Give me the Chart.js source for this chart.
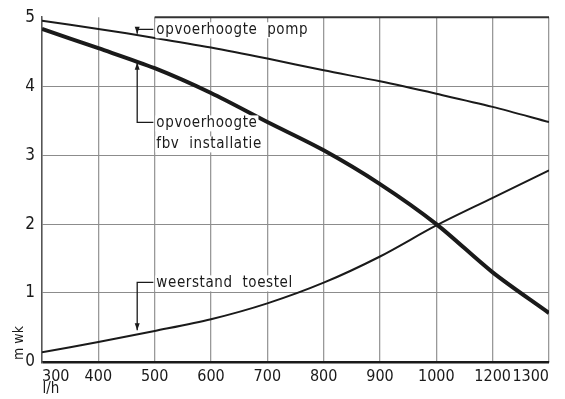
<!DOCTYPE html>
<html>
<head>
<meta charset="utf-8">
<script src="https://cdn.jsdelivr.net/npm/chart.js@4"></script>
<style>
  html, body { margin: 0; padding: 0; background: #fff; }
  #wrap { width: 565px; height: 399px; }
</style>
</head>
<body>
<div id="wrap"><canvas id="chart" width="565" height="399"></canvas></div>
<script>
// x axis is not linear in l/h (1100 is skipped), so points sit on tick index
const xLabels = ['300', '400', '500', '600', '700', '800', '900', '1000', '1200', '1300'];
const yTicks = [0, 1, 2, 3, 4, 5];

// m wk, read at each x tick
const pumpHead = [4.95, 4.83, 4.70, 4.56, 4.40, 4.23, 4.07, 3.89, 3.70, 3.48];
const installHead = [4.83, 4.55, 4.26, 3.90, 3.48, 3.07, 2.58, 2.00, 1.30, 0.71];
const resistance = [0.14, 0.29, 0.45, 0.62, 0.85, 1.15, 1.53, 1.98, 2.38, 2.78];

// label text with leader: text anchor (index, value), leader x (index), arrow tip value
const notes = [
  { lines: ['opvoerhoogte  pomp'], at: [2.03, 4.81], leaderX: 1.69, tip: 4.76 },
  { lines: ['opvoerhoogte', 'fbv  installatie'], at: [2.03, 3.46], leaderX: 1.69, tip: 4.34 },
  { lines: ['weerstand  toestel'], at: [2.03, 1.14], leaderX: 1.69, tip: 0.46 }
];

const FONT = '"Liberation Sans Narrow", "DejaVu Sans Condensed", "DejaVu Sans", sans-serif';
const INK = '#1a1a1a';

const toPoints = arr => arr.map((v, i) => ({ x: i, y: v }));

const lineStyle = (w) => ({
  borderColor: INK,
  borderWidth: w,
  pointRadius: 0,
  fill: false,
  tension: 0.3
});

const notesPlugin = {
  id: 'notes',
  afterDraw(chart) {
    const { ctx, scales: { x, y }, chartArea } = chart;
    ctx.save();

    // top border only runs from 500 to the right
    ctx.strokeStyle = '#333';
    ctx.lineWidth = 2;
    ctx.beginPath();
    ctx.moveTo(x.getPixelForValue(2), y.getPixelForValue(5));
    ctx.lineTo(chartArea.right, y.getPixelForValue(5));
    ctx.stroke();

    ctx.font = '15px ' + FONT;
    ctx.letterSpacing = '0.6px';
    ctx.textBaseline = 'middle';
    ctx.fillStyle = INK;
    ctx.strokeStyle = INK;
    ctx.lineWidth = 1.3;

    notes.forEach(n => {
      const tx = x.getPixelForValue(n.at[0]);
      const ty = y.getPixelForValue(n.at[1]);
      const lx = x.getPixelForValue(n.leaderX);
      const tipY = y.getPixelForValue(n.tip);
      const lineH = 21;

      n.lines.forEach((t, i) => {
        const w = ctx.measureText(t).width;
        ctx.fillStyle = '#fff';
        ctx.fillRect(tx - 1, ty + i * lineH - 8, w + 2, 16);
        ctx.fillStyle = INK;
        ctx.fillText(t, tx, ty + i * lineH);
      });

      const hy = ty - 1;
      ctx.beginPath();
      ctx.moveTo(tx - 3, hy);
      ctx.lineTo(lx, hy);
      ctx.lineTo(lx, tipY);
      ctx.stroke();

      // small arrow head
      const dir = tipY > hy ? 1 : -1;
      ctx.beginPath();
      ctx.moveTo(lx, tipY);
      ctx.lineTo(lx - 2.5, tipY - dir * 7);
      ctx.lineTo(lx + 2.5, tipY - dir * 7);
      ctx.closePath();
      ctx.fill();
    });

    // axis captions
    ctx.letterSpacing = '0px';
    ctx.font = '15px ' + FONT;
    ctx.textAlign = 'center';
    ctx.fillText('l/h', 51, 389);
    ctx.font = '14px ' + FONT;
    ctx.translate(19, 343);
    ctx.rotate(-Math.PI / 2);
    ctx.fillText('m wk', 0, 0);
    ctx.restore();
  }
};

new Chart(document.getElementById('chart'), {
  type: 'line',
  data: {
    datasets: [
      { label: 'opvoerhoogte pomp', data: toPoints(pumpHead), ...lineStyle(2) },
      { label: 'opvoerhoogte fbv installatie', data: toPoints(installHead), ...lineStyle(4) },
      { label: 'weerstand toestel', data: toPoints(resistance), ...lineStyle(2) }
    ]
  },
  options: {
    responsive: false,
    animation: false,
    layout: { padding: { top: 17, right: 16, left: 0, bottom: 0 } },
    plugins: {
      legend: { display: false },
      tooltip: { enabled: false }
    },
    scales: {
      x: {
        type: 'linear',
        min: 0,
        max: xLabels.length - 1,
        afterFit: s => { s.height = 37; },
        afterBuildTicks: s => { s.ticks = xLabels.map((_, i) => ({ value: i })); },
        ticks: {
          align: 'inner',
          padding: 5,
          color: INK,
          font: { family: FONT, size: 16 },
          maxRotation: 0,
          autoSkip: false,
          callback: v => xLabels[v]
        },
        grid: { color: '#999', lineWidth: 1.3, drawTicks: false },
        border: { color: INK, width: 1.5 }
      },
      y: {
        min: 0,
        max: 5,
        afterFit: s => { s.width = 42; },
        afterBuildTicks: s => { s.ticks = yTicks.map(v => ({ value: v })); },
        ticks: {
          padding: 7,
          color: INK,
          font: { family: FONT, size: 17 }
        },
        grid: {
          drawTicks: false,
          lineWidth: ctx => ctx.tick && ctx.tick.value === 0 ? 2.5 : 1.1,
          color: ctx => {
            const v = ctx.tick ? ctx.tick.value : null;
            if (v === 0) return INK;
            if (v === 5) return 'rgba(0,0,0,0)';
            return '#8c8c8c';
          }
        },
        border: { color: '#555', width: 1.5 }
      }
    }
  },
  plugins: [notesPlugin]
});
</script>
</body>
</html>
